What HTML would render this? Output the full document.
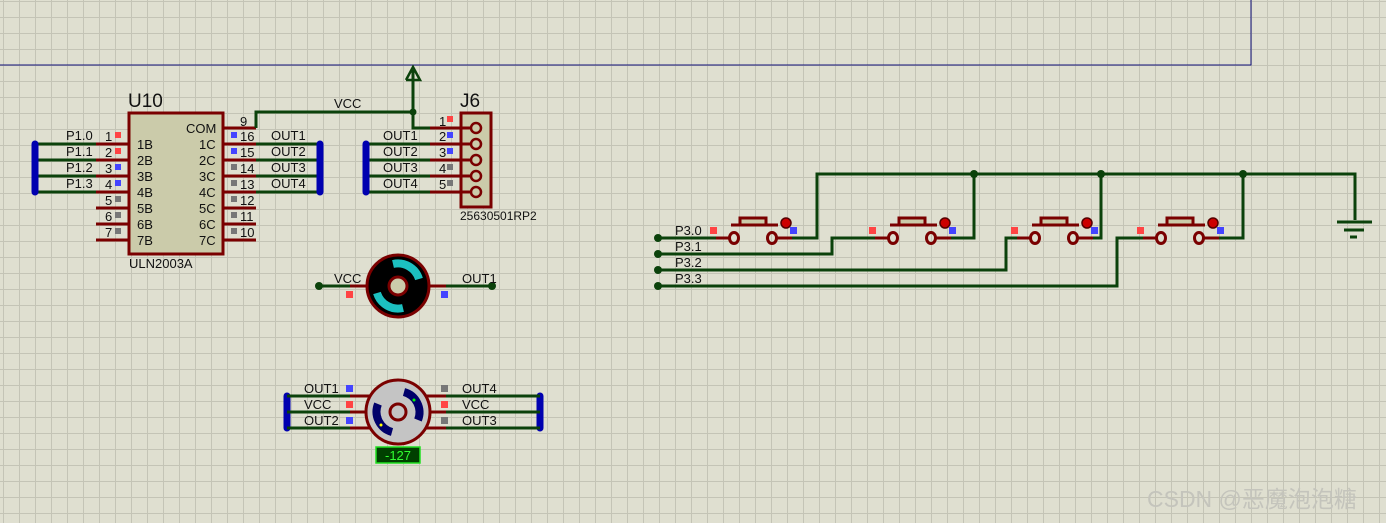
<!DOCTYPE html>
<html><head><meta charset="utf-8"><style>
html,body{margin:0;padding:0;}
body{width:1386px;height:523px;overflow:hidden;background:#dfdfd0;
background-image:linear-gradient(to right,#c4c4b6 1px,transparent 1px),linear-gradient(to bottom,#c4c4b6 1px,transparent 1px);
background-size:16px 16px;background-position:3px 1px;}
svg{position:absolute;left:0;top:0;}
text{font-family:"Liberation Sans",sans-serif;font-size:13px;fill:#111;}
</style></head><body>
<svg width="1386" height="523" viewBox="0 0 1386 523">
<g fill="none">
<polyline points="0,65 1251,65 1251,0" stroke="#10107a" stroke-width="1"/>
</g>
<!-- U10 -->
<g stroke="#7a0000" stroke-width="3">
<line x1="96" y1="144" x2="128" y2="144"/><line x1="96" y1="160" x2="128" y2="160"/>
<line x1="96" y1="176" x2="128" y2="176"/><line x1="96" y1="192" x2="128" y2="192"/>
<line x1="96" y1="208" x2="128" y2="208"/><line x1="96" y1="224" x2="128" y2="224"/>
<line x1="96" y1="240" x2="128" y2="240"/>
<line x1="224" y1="128" x2="256" y2="128"/>
<line x1="224" y1="144" x2="256" y2="144"/><line x1="224" y1="160" x2="256" y2="160"/>
<line x1="224" y1="176" x2="256" y2="176"/><line x1="224" y1="192" x2="256" y2="192"/>
<line x1="224" y1="208" x2="256" y2="208"/><line x1="224" y1="224" x2="256" y2="224"/>
<line x1="224" y1="240" x2="256" y2="240"/>
<rect x="129" y="113" width="94" height="141" fill="#cbcbaa"/>
</g>
<g stroke="#0b420b" stroke-width="3" fill="none">
<line x1="35" y1="144" x2="96" y2="144"/><line x1="35" y1="160" x2="96" y2="160"/>
<line x1="35" y1="176" x2="96" y2="176"/><line x1="35" y1="192" x2="96" y2="192"/>
<line x1="256" y1="144" x2="320" y2="144"/><line x1="256" y1="160" x2="320" y2="160"/>
<line x1="256" y1="176" x2="320" y2="176"/><line x1="256" y1="192" x2="320" y2="192"/>
<polyline points="256,128 256,112 413,112"/>
<polyline points="413,70 413,128 430,128"/>
<polyline points="406,80 413,67 420,80 406,80" stroke-width="2.5"/>
<line x1="366" y1="144" x2="430" y2="144"/><line x1="366" y1="160" x2="430" y2="160"/>
<line x1="366" y1="176" x2="430" y2="176"/><line x1="366" y1="192" x2="430" y2="192"/>
</g>
<circle cx="413" cy="112" r="3.5" fill="#0b420b"/>
<g stroke="#0000b0" stroke-width="7" stroke-linecap="round">
<line x1="35" y1="144" x2="35" y2="192"/><line x1="320" y1="144" x2="320" y2="192"/>
<line x1="366" y1="144" x2="366" y2="192"/>
<line x1="287" y1="396" x2="287" y2="428"/><line x1="540" y1="396" x2="540" y2="428"/>
</g>
<text x="128" y="107" style="font-size:19px">U10</text>
<text x="129" y="268">ULN2003A</text>
<g>
<text x="66" y="140">P1.0</text><text x="66" y="156">P1.1</text><text x="66" y="172">P1.2</text><text x="66" y="188">P1.3</text>
<text x="105" y="141">1</text><text x="105" y="157">2</text><text x="105" y="173">3</text><text x="105" y="189">4</text>
<text x="105" y="205">5</text><text x="105" y="221">6</text><text x="105" y="237">7</text>
<text x="137" y="149">1B</text><text x="137" y="165">2B</text><text x="137" y="181">3B</text><text x="137" y="197">4B</text>
<text x="137" y="213">5B</text><text x="137" y="229">6B</text><text x="137" y="245">7B</text>
<text x="186" y="133">COM</text>
<text x="199" y="149">1C</text><text x="199" y="165">2C</text><text x="199" y="181">3C</text><text x="199" y="197">4C</text>
<text x="199" y="213">5C</text><text x="199" y="229">6C</text><text x="199" y="245">7C</text>
<text x="240" y="126">9</text>
<text x="240" y="141">16</text><text x="240" y="157">15</text><text x="240" y="173">14</text><text x="240" y="189">13</text>
<text x="240" y="205">12</text><text x="240" y="221">11</text><text x="240" y="237">10</text>
<text x="271" y="140">OUT1</text><text x="271" y="156">OUT2</text><text x="271" y="172">OUT3</text><text x="271" y="188">OUT4</text>
<text x="334" y="108">VCC</text>
</g>
<g>
<rect x="115" y="132" width="6" height="6" fill="#f44"/><rect x="115" y="148" width="6" height="6" fill="#f44"/>
<rect x="115" y="164" width="6" height="6" fill="#44f"/><rect x="115" y="180" width="6" height="6" fill="#44f"/>
<rect x="115" y="196" width="6" height="6" fill="#777"/><rect x="115" y="212" width="6" height="6" fill="#777"/><rect x="115" y="228" width="6" height="6" fill="#777"/>
<rect x="231" y="132" width="6" height="6" fill="#44f"/><rect x="231" y="148" width="6" height="6" fill="#44f"/>
<rect x="231" y="164" width="6" height="6" fill="#777"/><rect x="231" y="180" width="6" height="6" fill="#777"/>
<rect x="231" y="196" width="6" height="6" fill="#777"/><rect x="231" y="212" width="6" height="6" fill="#777"/><rect x="231" y="228" width="6" height="6" fill="#777"/>
</g>
<!-- J6 -->
<g stroke="#7a0000" stroke-width="3" fill="none">
<rect x="461" y="113" width="30" height="94" fill="#cbcbaa"/>
<line x1="430" y1="128" x2="470" y2="128"/><line x1="430" y1="144" x2="470" y2="144"/>
<line x1="430" y1="160" x2="470" y2="160"/><line x1="430" y1="176" x2="470" y2="176"/>
<line x1="430" y1="192" x2="470" y2="192"/>
<g fill="#cbcbaa" stroke-width="2.5"><circle cx="476" cy="128" r="5"/><circle cx="476" cy="144" r="5"/><circle cx="476" cy="160" r="5"/><circle cx="476" cy="176" r="5"/><circle cx="476" cy="192" r="5"/></g>
</g>
<text x="460" y="107" style="font-size:19px">J6</text>
<text x="460" y="220" style="font-size:12px">25630501RP2</text>
<text x="383" y="140">OUT1</text><text x="383" y="156">OUT2</text><text x="383" y="172">OUT3</text><text x="383" y="188">OUT4</text>
<text x="439" y="126">1</text><text x="439" y="141">2</text><text x="439" y="157">3</text><text x="439" y="173">4</text><text x="439" y="189">5</text>
<rect x="447" y="116" width="6" height="6" fill="#f44"/><rect x="447" y="132" width="6" height="6" fill="#44f"/>
<rect x="447" y="148" width="6" height="6" fill="#44f"/><rect x="447" y="164" width="6" height="6" fill="#777"/><rect x="447" y="180" width="6" height="6" fill="#777"/>
<!-- Motor 1 -->
<line x1="319" y1="286" x2="350" y2="286" stroke="#0b420b" stroke-width="3"/>
<line x1="446" y1="286" x2="492" y2="286" stroke="#0b420b" stroke-width="3"/>
<line x1="350" y1="286" x2="368" y2="286" stroke="#7a0000" stroke-width="3"/>
<line x1="428" y1="286" x2="446" y2="286" stroke="#7a0000" stroke-width="3"/>
<circle cx="319" cy="286" r="4" fill="#0b420b"/><circle cx="492" cy="286" r="4" fill="#0b420b"/>
<circle cx="398" cy="286" r="31" fill="#000" stroke="#7a0000" stroke-width="3"/>
<path d="M393,264 A22,22 0 0 1 419,279" stroke="#1cc0c0" stroke-width="8" fill="none"/>
<path d="M403,308 A22,22 0 0 1 377,293" stroke="#1cc0c0" stroke-width="8" fill="none"/>
<circle cx="398" cy="286" r="9" fill="#cbcbaa" stroke="#7a0000" stroke-width="3"/>
<text x="334" y="283">VCC</text><text x="462" y="283">OUT1</text>
<rect x="346" y="291" width="7" height="7" fill="#f44"/><rect x="441" y="291" width="7" height="7" fill="#44f"/>
<!-- Motor 2 -->
<g stroke="#0b420b" stroke-width="3">
<line x1="287" y1="396" x2="350" y2="396"/><line x1="287" y1="412" x2="350" y2="412"/><line x1="287" y1="428" x2="350" y2="428"/>
<line x1="446" y1="396" x2="540" y2="396"/><line x1="446" y1="412" x2="540" y2="412"/><line x1="446" y1="428" x2="540" y2="428"/>
</g>
<g stroke="#7a0000" stroke-width="3">
<line x1="350" y1="396" x2="372" y2="396"/><line x1="350" y1="412" x2="368" y2="412"/><line x1="350" y1="428" x2="372" y2="428"/>
<line x1="424" y1="396" x2="446" y2="396"/><line x1="428" y1="412" x2="446" y2="412"/><line x1="424" y1="428" x2="446" y2="428"/>
</g>
<circle cx="398" cy="412" r="32" fill="#c4c4c4" stroke="#7a0000" stroke-width="3"/>
<path d="M404,392 A21,21 0 0 1 418,420" stroke="#00006a" stroke-width="8" fill="none"/>
<path d="M392,432 A21,21 0 0 1 378,404" stroke="#00006a" stroke-width="8" fill="none"/>
<circle cx="414" cy="400" r="1.5" fill="#0f0"/><circle cx="381" cy="425" r="1.5" fill="#ff0"/>
<circle cx="398" cy="412" r="8" fill="#c4c4c4" stroke="#7a0000" stroke-width="3"/>
<text x="304" y="393">OUT1</text><text x="304" y="409">VCC</text><text x="304" y="425">OUT2</text>
<text x="462" y="393">OUT4</text><text x="462" y="409">VCC</text><text x="462" y="425">OUT3</text>
<rect x="346" y="385" width="7" height="7" fill="#44f"/><rect x="346" y="401" width="7" height="7" fill="#f44"/><rect x="346" y="417" width="7" height="7" fill="#44f"/>
<rect x="441" y="385" width="7" height="7" fill="#777"/><rect x="441" y="401" width="7" height="7" fill="#f44"/><rect x="441" y="417" width="7" height="7" fill="#777"/>
<rect x="376" y="447" width="44" height="16" fill="#004000" stroke="#20e020" stroke-width="1.5"/>
<text x="385" y="460" style="fill:#30ff30">-127</text>
<!-- Switches -->
<g stroke="#0b420b" stroke-width="3" fill="none">
<polyline points="658,238 730,238"/>
<polyline points="776,238 817,238 817,174 1355,174 1355,220"/>
<polyline points="658,254 832,254 832,238 889,238"/>
<polyline points="934,238 974,238 974,174"/>
<polyline points="658,270 1006,270 1006,238 1031,238"/>
<polyline points="1076,238 1101,238 1101,174"/>
<polyline points="658,286 1117,286 1117,238 1157,238"/>
<polyline points="1202,238 1243,238 1243,174"/>
</g>
<g fill="#0b420b">
<circle cx="658" cy="238" r="4"/><circle cx="658" cy="254" r="4"/><circle cx="658" cy="270" r="4"/><circle cx="658" cy="286" r="4"/>
<circle cx="974" cy="174" r="4"/><circle cx="1101" cy="174" r="4"/><circle cx="1243" cy="174" r="4"/>
</g>
<g stroke="#0b420b" stroke-width="3"><line x1="1337" y1="222" x2="1372" y2="222"/><line x1="1344" y1="230" x2="1364" y2="230"/><line x1="1350" y1="237" x2="1357" y2="237"/></g>
<g id="sw">
<g stroke="#7a0000" stroke-width="3" fill="none">
<line x1="716" y1="238" x2="730" y2="238"/><line x1="778" y1="238" x2="792" y2="238"/>
<ellipse cx="734" cy="238" rx="4.5" ry="5.5"/><ellipse cx="772" cy="238" rx="4.5" ry="5.5"/>
<line x1="731" y1="225" x2="778" y2="225"/>
<rect x="740" y="218" width="26" height="7" fill="#cbcbaa"/>
</g>
<circle cx="786" cy="223" r="5" fill="#c00" stroke="#500" stroke-width="1.5"/>
<rect x="710" y="227" width="7" height="7" fill="#f44"/><rect x="790" y="227" width="7" height="7" fill="#44f"/>
</g>
<use href="#sw" x="159"/><use href="#sw" x="301"/><use href="#sw" x="427"/>
<text x="675" y="235">P3.0</text><text x="675" y="251">P3.1</text><text x="675" y="267">P3.2</text><text x="675" y="283">P3.3</text>
<text x="1147" y="507" style="font-family:'Liberation Sans','Noto Sans CJK SC',sans-serif;font-size:23px;fill:#c4c4bc">CSDN @恶魔泡泡糖</text>
</svg>
</body></html>
